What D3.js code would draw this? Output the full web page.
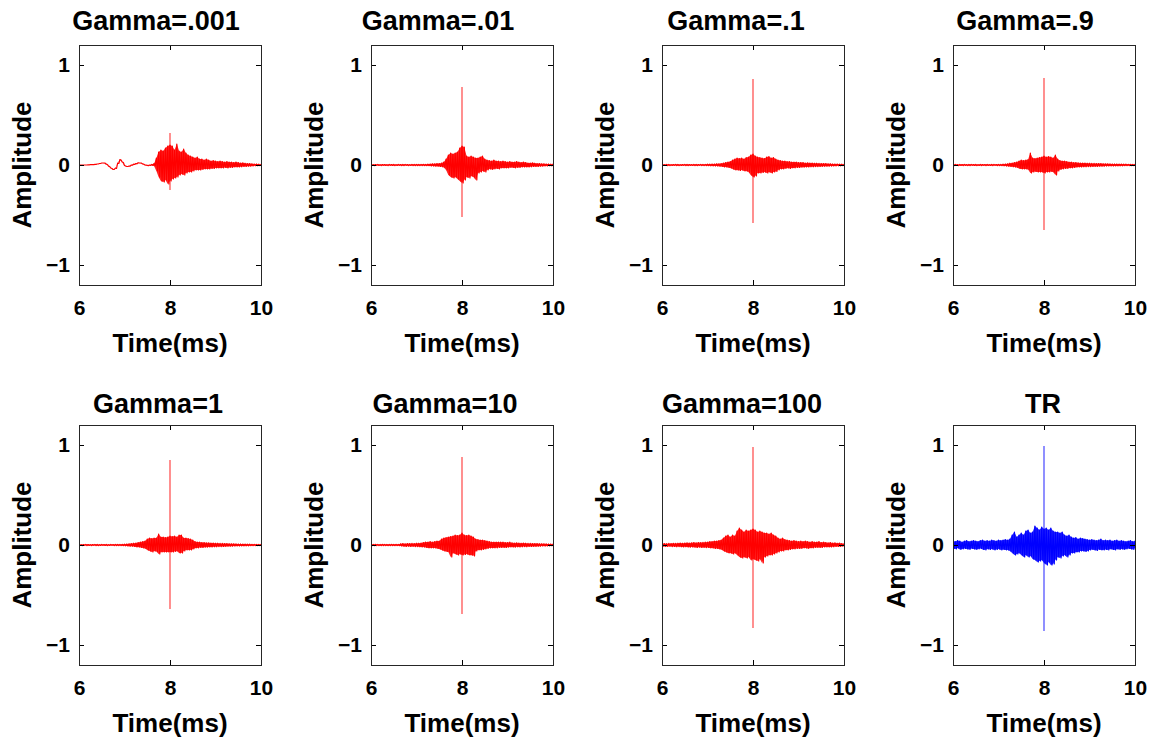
<!DOCTYPE html>
<html>
<head>
<meta charset="utf-8">
<script src="https://cdn.jsdelivr.net/npm/d3@7"></script>
<style>
  html, body { margin: 0; padding: 0; background: #fff; }
  svg { display: block; font-family: "Liberation Sans", Arial, Helvetica, sans-serif; font-weight: bold; }
</style>
</head>
<body>
<svg id="chart" width="1153" height="742"></svg>
<script>
// ---- data -------------------------------------------------------------
const titles = ["Gamma=.001", "Gamma=.01", "Gamma=.1", "Gamma=.9",
                "Gamma=1", "Gamma=10", "Gamma=100", "TR"];
const timeTicks = [6, 8, 10];
const ampTicks = [-1, 0, 1];
const timeLabel = "Time(ms)";
const ampLabel = "Amplitude";

// envelope samples every 0.05 ms from 6 ms to 10 ms (upper / lower extent per bin)
const sampleStart = 6, sampleStep = 0.05;

// direct-arrival pulse at 8 ms
const peakTime = 8;
const peakHigh = [0.32, 0.78, 0.86, 0.87, 0.85, 0.88, 0.98, 0.99];
const peakLow  = [-0.25, -0.52, -0.58, -0.65, -0.64, -0.69, -0.83, -0.86];

const upperG001 = [0,0,0,0,.002,.003,.004,.006,.01,.015,
  .02,.02,.008,-.012,-.03,-.045,-.03,.02,.055,.03,
  -.005,-.015,-.01,0,.008,.015,.022,.02,.01,0,
  -.004,0,.006,.015,.07,.13,.15,.14,.17,.19,
  .2,.19,.15,.21,.14,.13,.16,.12,.1,.09,
  .08,.07,.08,.06,.06,.05,.06,.05,.04,.045,
  .04,.035,.04,.035,.03,.035,.03,.03,.025,.03,
  .025,.02,.022,.018,.015,.015,.012,.01,.01,.008,
  .006];
const lowerG001 = [0,0,0,0,.002,.003,.004,.006,.01,.015,
  .02,.018,.005,-.015,-.035,-.045,-.035,.015,.05,.025,
  -.01,-.015,-.012,-.002,.005,.012,.02,.018,.008,-.002,
  -.006,-.004,-.004,-.01,-.06,-.12,-.16,-.17,-.15,-.19,
  -.16,-.14,-.13,-.12,-.1,-.09,-.1,-.08,-.07,-.07,
  -.06,-.05,-.05,-.05,-.045,-.04,-.04,-.04,-.035,-.035,
  -.03,-.03,-.03,-.03,-.025,-.03,-.025,-.025,-.02,-.02,
  -.02,-.018,-.015,-.015,-.012,-.012,-.01,-.008,-.008,-.006,
  -.005];

const upperG01 = [.005,.004,.005,.006,.004,.005,.005,.004,.006,.005,
  .005,.004,.006,.005,.005,.006,.005,.004,.006,.005,
  .006,.005,.006,.007,.006,.008,.01,.012,.012,.015,
  .015,.02,.03,.06,.1,.12,.11,.12,.13,.17,
  .19,.18,.09,.08,.09,.08,.07,.07,.08,.09,
  .06,.05,.045,.04,.05,.04,.04,.035,.04,.035,
  .03,.035,.03,.03,.035,.03,.025,.03,.025,.02,
  .02,.022,.018,.015,.015,.012,.012,.01,.01,.008,
  .008];
const lowerG01 = [-.005,-.006,-.004,-.005,-.006,-.004,-.005,-.006,-.004,-.005,
  -.006,-.005,-.004,-.006,-.005,-.004,-.006,-.005,-.005,-.006,
  -.005,-.006,-.005,-.006,-.007,-.007,-.01,-.01,-.012,-.012,
  -.015,-.018,-.025,-.05,-.1,-.12,-.13,-.12,-.14,-.16,
  -.18,-.15,-.12,-.13,-.11,-.12,-.15,-.08,-.07,-.06,
  -.07,-.05,-.04,-.045,-.04,-.035,-.04,-.03,-.03,-.03,
  -.03,-.025,-.025,-.03,-.025,-.025,-.02,-.02,-.02,-.02,
  -.018,-.015,-.015,-.015,-.012,-.012,-.01,-.01,-.008,-.008,
  -.006];

const upperG1 = [.005,.004,.006,.005,.004,.005,.006,.005,.004,.005,
  .006,.005,.005,.004,.006,.005,.005,.006,.005,.006,
  .008,.008,.01,.01,.012,.012,.015,.02,.025,.03,
  .035,.05,.06,.07,.065,.07,.06,.075,.08,.1,
  .11,.09,.08,.075,.07,.065,.08,.085,.07,.075,
  .06,.05,.045,.04,.04,.035,.035,.03,.03,.03,
  .025,.025,.025,.02,.022,.02,.02,.018,.018,.016,
  .015,.015,.014,.012,.012,.01,.01,.01,.008,.008,
  .006];
const lowerG1 = [-.004,-.005,-.005,-.006,-.005,-.004,-.005,-.006,-.005,-.004,
  -.005,-.006,-.004,-.005,-.005,-.006,-.004,-.005,-.006,-.005,
  -.007,-.008,-.009,-.01,-.011,-.012,-.014,-.02,-.02,-.025,
  -.03,-.04,-.05,-.05,-.055,-.05,-.06,-.06,-.07,-.1,
  -.12,-.11,-.08,-.08,-.075,-.07,-.08,-.07,-.08,-.07,
  -.065,-.05,-.04,-.04,-.035,-.03,-.035,-.03,-.03,-.025,
  -.025,-.022,-.022,-.02,-.02,-.018,-.018,-.016,-.016,-.015,
  -.014,-.013,-.012,-.012,-.011,-.01,-.009,-.008,-.008,-.007,
  -.006];

const upperG9 = [.005,.006,.004,.005,.005,.006,.004,.005,.006,.005,
  .005,.004,.006,.005,.005,.006,.004,.005,.006,.005,
  .006,.006,.008,.01,.012,.018,.02,.025,.03,.04,
  .05,.045,.05,.055,.12,.07,.065,.07,.075,.08,
  .09,.08,.085,.08,.07,.1,.06,.045,.04,.04,
  .035,.03,.03,.025,.025,.022,.02,.02,.02,.018,
  .018,.016,.016,.015,.014,.014,.013,.012,.012,.011,
  .01,.01,.01,.009,.009,.008,.008,.007,.007,.006,
  .006];
const lowerG9 = [-.005,-.004,-.006,-.005,-.005,-.004,-.006,-.005,-.004,-.005,
  -.006,-.005,-.005,-.004,-.006,-.005,-.005,-.006,-.004,-.005,
  -.006,-.007,-.008,-.01,-.012,-.015,-.018,-.02,-.025,-.035,
  -.04,-.04,-.04,-.045,-.08,-.07,-.065,-.07,-.07,-.07,
  -.08,-.07,-.07,-.065,-.07,-.1,-.06,-.045,-.04,-.035,
  -.035,-.03,-.03,-.025,-.022,-.02,-.02,-.018,-.018,-.016,
  -.016,-.015,-.014,-.014,-.013,-.012,-.012,-.011,-.01,-.01,
  -.01,-.009,-.009,-.008,-.008,-.007,-.007,-.006,-.006,-.006,
  -.005];

const upperG1b = [.005,.004,.005,.006,.005,.004,.005,.006,.005,.004,
  .006,.005,.005,.004,.006,.005,.006,.005,.006,.007,
  .008,.01,.012,.015,.018,.02,.025,.03,.035,.04,
  .06,.07,.065,.07,.07,.11,.08,.08,.075,.08,
  .09,.085,.09,.08,.1,.1,.07,.07,.065,.06,
  .05,.035,.03,.03,.025,.025,.022,.022,.02,.02,
  .018,.018,.016,.016,.015,.014,.013,.012,.012,.011,
  .01,.01,.009,.009,.008,.008,.007,.007,.006,.006,
  .006];
const lowerG1b = [-.005,-.006,-.004,-.005,-.005,-.006,-.004,-.005,-.006,-.005,
  -.004,-.005,-.006,-.005,-.004,-.006,-.005,-.006,-.006,-.007,
  -.008,-.01,-.012,-.012,-.015,-.02,-.02,-.025,-.03,-.035,
  -.05,-.06,-.07,-.06,-.065,-.09,-.07,-.07,-.07,-.07,
  -.07,-.07,-.065,-.06,-.08,-.08,-.06,-.05,-.05,-.05,
  -.04,-.03,-.03,-.025,-.025,-.022,-.022,-.02,-.02,-.018,
  -.018,-.016,-.016,-.015,-.014,-.013,-.012,-.012,-.011,-.01,
  -.01,-.009,-.009,-.008,-.008,-.007,-.007,-.006,-.006,-.006,
  -.005];

const upperG10 = [.006,.005,.007,.006,.005,.007,.006,.006,.005,.007,
  .006,.007,.006,.012,.015,.012,.014,.015,.016,.015,
  .018,.018,.02,.025,.03,.03,.035,.03,.035,.04,
  .04,.06,.07,.075,.08,.085,.09,.1,.095,.1,
  .12,.1,.095,.1,.09,.08,.06,.055,.05,.05,
  .045,.04,.035,.03,.03,.03,.03,.028,.03,.025,
  .025,.028,.022,.02,.022,.02,.018,.02,.018,.016,
  .016,.015,.015,.014,.013,.012,.012,.011,.01,.01,
  .008];
const lowerG10 = [-.006,-.007,-.005,-.006,-.007,-.005,-.006,-.007,-.006,-.005,
  -.007,-.006,-.007,-.01,-.013,-.014,-.012,-.015,-.014,-.016,
  -.016,-.018,-.02,-.02,-.025,-.03,-.03,-.03,-.03,-.035,
  -.04,-.05,-.06,-.065,-.07,-.12,-.08,-.09,-.1,-.09,
  -.1,-.095,-.09,-.1,-.1,-.11,-.06,-.05,-.05,-.045,
  -.04,-.035,-.03,-.03,-.03,-.028,-.025,-.025,-.025,-.025,
  -.022,-.02,-.02,-.022,-.018,-.02,-.018,-.016,-.018,-.015,
  -.015,-.014,-.014,-.013,-.012,-.011,-.011,-.01,-.009,-.008,
  -.007];

const upperG100 = [.012,.015,.013,.016,.015,.017,.016,.018,.02,.018,
  .02,.022,.02,.022,.025,.022,.025,.024,.026,.028,
  .03,.035,.035,.04,.04,.045,.05,.07,.09,.1,
  .08,.1,.09,.14,.17,.15,.13,.15,.14,.15,
  .16,.15,.13,.14,.13,.12,.12,.11,.12,.1,
  .09,.07,.06,.07,.055,.05,.045,.04,.045,.04,
  .035,.04,.035,.04,.035,.03,.035,.03,.03,.035,
  .025,.03,.025,.022,.025,.02,.022,.018,.02,.015,
  .012];
const lowerG100 = [-.012,-.014,-.015,-.013,-.016,-.015,-.018,-.016,-.018,-.02,
  -.018,-.02,-.022,-.02,-.022,-.025,-.022,-.025,-.024,-.026,
  -.025,-.03,-.03,-.035,-.035,-.04,-.045,-.06,-.07,-.08,
  -.08,-.09,-.08,-.1,-.12,-.13,-.12,-.13,-.12,-.15,
  -.14,-.15,-.16,-.14,-.18,-.12,-.11,-.1,-.1,-.09,
  -.08,-.07,-.06,-.06,-.05,-.05,-.045,-.04,-.04,-.035,
  -.035,-.035,-.03,-.03,-.035,-.03,-.03,-.025,-.025,-.025,
  -.025,-.02,-.02,-.02,-.02,-.018,-.015,-.015,-.015,-.012,
  -.01];

const upperTR = [.04,.035,.045,.04,.03,.04,.045,.035,.04,.045,
  .04,.035,.045,.05,.04,.045,.04,.05,.045,.04,
  .05,.045,.05,.055,.05,.06,.1,.13,.08,.1,
  .12,.1,.14,.15,.12,.13,.19,.17,.15,.18,
  .16,.17,.15,.17,.14,.13,.13,.12,.13,.1,
  .09,.1,.08,.07,.075,.06,.07,.065,.06,.055,
  .05,.055,.05,.045,.05,.06,.045,.05,.045,.05,
  .04,.045,.05,.04,.045,.04,.035,.04,.045,.035,
  .04];
const lowerTR = [-.035,-.04,-.03,-.045,-.04,-.035,-.04,-.045,-.035,-.04,
  -.045,-.04,-.035,-.045,-.05,-.04,-.045,-.04,-.05,-.045,
  -.04,-.05,-.045,-.05,-.05,-.06,-.08,-.1,-.09,-.08,
  -.1,-.12,-.1,-.12,-.11,-.14,-.15,-.17,-.16,-.15,
  -.18,-.2,-.17,-.2,-.19,-.15,-.12,-.13,-.11,-.1,
  -.12,-.1,-.08,-.08,-.07,-.07,-.06,-.06,-.065,-.06,
  -.05,-.045,-.05,-.055,-.045,-.05,-.05,-.045,-.05,-.04,
  -.045,-.05,-.04,-.045,-.04,-.045,-.04,-.035,-.04,-.045,
  -.03];

const upperSeries = [upperG001, upperG01, upperG1, upperG9, upperG1b, upperG10, upperG100, upperTR];
const lowerSeries = [lowerG001, lowerG01, lowerG1, lowerG9, lowerG1b, lowerG10, lowerG100, lowerTR];

// ---- layout & style ---------------------------------------------------
const colLeft = [79, 371, 662, 953];
const rowTop = [45, 425];
const boxW = 182, boxH = 240;
const titleBase = [30, 413];
const titleShift = [-14, -24, -17, -19, -12, -17, -11, -1];
const traceColor = ["#ff0000", "#ff0000", "#ff0000", "#ff0000",
                    "#ff0000", "#ff0000", "#ff0000", "#0000ff"];

const svg = d3.select("#chart");

const x = d3.scaleLinear().domain([6, 10]).range([0, boxW]);
const y = d3.scaleLinear().domain([-1.2, 1.2]).range([boxH, 0]);

const trace = d3.line().x(d => x(d[0])).y(d => y(d[1]));
const band = d3.area().x(d => x(d[0])).y0(d => y(d[2])).y1(d => y(d[1]));

function styleAxis(sel, size) {
  sel.attr("font-family", null).attr("font-size", null);
  sel.select(".domain").remove();
  sel.selectAll(".tick line").attr("stroke", "#000");
  sel.selectAll(".tick text")
    .attr("fill", "#000")
    .style("font-size", size + "px")
    .style("font-weight", "bold");
}

titles.forEach((title, k) => {
  const row = Math.floor(k / 4), col = k % 4;
  const left = colLeft[col], top = rowTop[row];
  const g = svg.append("g").attr("transform", `translate(${left},${top})`);

  g.append("clipPath").attr("id", "clip" + k)
    .append("rect").attr("width", boxW).attr("height", boxH);

  const up = upperSeries[k], lo = lowerSeries[k];
  const bins = up.map((v, i) => [sampleStart + i * sampleStep, v, lo[i]]);
  // zig-zag through upper then lower extent of every bin
  const pts = [];
  bins.forEach(b => {
    pts.push([b[0], b[1]]);
    pts.push([b[0] + sampleStep / 2, b[2]]);
  });

  const plot = g.append("g").attr("clip-path", `url(#clip${k})`);
  plot.append("path")
    .attr("d", band(bins))
    .attr("fill", traceColor[k])
    .attr("fill-opacity", 0.85);
  plot.append("path")
    .attr("d", trace(pts))
    .attr("fill", "none")
    .attr("stroke", traceColor[k])
    .attr("stroke-width", 1.2)
    .attr("stroke-linejoin", "round");
  plot.append("line")
    .attr("x1", x(peakTime)).attr("x2", x(peakTime))
    .attr("y1", y(peakLow[k])).attr("y2", y(peakHigh[k]))
    .attr("stroke", traceColor[k])
    .attr("stroke-width", 1.1)
    .attr("stroke-opacity", 0.8);

  // axes with inward ticks on all four sides
  g.append("g").attr("transform", `translate(0,${boxH})`)
    .call(d3.axisBottom(x).tickValues(timeTicks).tickSizeInner(-5).tickSizeOuter(0)
      .tickPadding(15).tickFormat(d3.format("d")))
    .call(s => styleAxis(s, 21));
  g.append("g")
    .call(d3.axisTop(x).tickValues(timeTicks).tickSizeInner(-5).tickSizeOuter(0).tickFormat(""))
    .call(s => styleAxis(s, 21));
  g.append("g")
    .call(d3.axisLeft(y).tickValues(ampTicks).tickSizeInner(-5).tickSizeOuter(0)
      .tickPadding(9).tickFormat(d3.format("d")))
    .call(s => styleAxis(s, 21));
  g.append("g").attr("transform", `translate(${boxW},0)`)
    .call(d3.axisRight(y).tickValues(ampTicks).tickSizeInner(-5).tickSizeOuter(0).tickFormat(""))
    .call(s => styleAxis(s, 21));

  g.append("rect")
    .attr("x", 0.5).attr("y", 0.5)
    .attr("width", boxW).attr("height", boxH)
    .attr("fill", "none").attr("stroke", "#262626").attr("stroke-width", 1);

  // labels
  svg.append("text")
    .attr("x", left + boxW / 2 + titleShift[k]).attr("y", titleBase[row])
    .attr("text-anchor", "middle").style("font-size", "27px")
    .text(title);
  svg.append("text")
    .attr("x", left + boxW / 2).attr("y", top + boxH + 67)
    .attr("text-anchor", "middle").style("font-size", "26px")
    .text(timeLabel);
  svg.append("text")
    .attr("transform", `translate(${left - 48},${top + boxH / 2}) rotate(-90)`)
    .attr("text-anchor", "middle").style("font-size", "26px")
    .text(ampLabel);
});
</script>
</body>
</html>
